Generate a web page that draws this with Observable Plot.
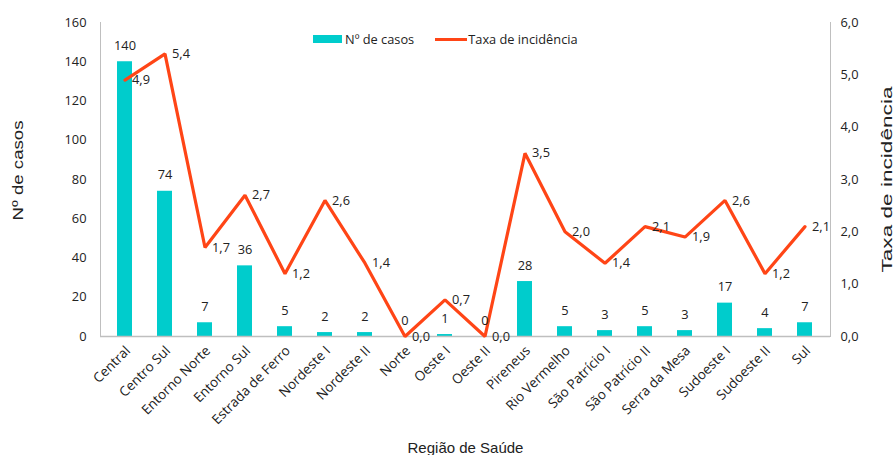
<!DOCTYPE html>
<html>
<head>
<meta charset="utf-8">
<script src="https://cdn.jsdelivr.net/npm/d3@7"></script>
<script src="https://cdn.jsdelivr.net/npm/@observablehq/plot@0.6"></script>
<style>
  body { margin: 0; background: #fff; }
  #wrap { position: relative; width: 896px; height: 455px; }
  .legend { position: absolute; top: 30px; left: 313px; font-family: "Open Sans", sans-serif; font-size: 12.8px; color: #222; display: flex; align-items: center; }
  .sw { display: inline-block; }
</style>
</head>
<body>
<div id="wrap"></div>
<script>
const categorias = ["Central","Centro Sul","Entorno Norte","Entorno Sul","Estrada de Ferro","Nordeste I","Nordeste II","Norte","Oeste I","Oeste II","Pireneus","Rio Vermelho","São Patrício I","São Patrício II","Serra da Mesa","Sudoeste I","Sudoeste II","Sul"];
const casos = [140,74,7,36,5,2,2,0,1,0,28,5,3,5,3,17,4,7];
const taxa = [4.9,5.4,1.7,2.7,1.2,2.6,1.4,0.0,0.7,0.0,3.5,2.0,1.4,2.1,1.9,2.6,1.2,2.1];
const casosTicks = [0,20,40,60,80,100,120,140,160];
const taxaTicks = [0,1,2,3,4,5,6];

const corBarra = "#00CCCC";
const corLinha = "#FF4516";
const k = 160 / 6;
const fmt = v => v.toFixed(1).replace(".", ",");
const data = categorias.map((c, i) => ({regiao: c, casos: casos[i], taxa: taxa[i]}));

const tituloY = "Nº de casos";
const tituloY2 = "Taxa de incidência";
const tituloX = "Região de Saúde";

const plot = Plot.plot({
  width: 896,
  height: 455,
  marginLeft: 100,
  marginRight: 66,
  marginTop: 22,
  marginBottom: 119,
  style: {fontFamily: "'Open Sans', sans-serif", fontSize: "12.8px", color: "#222", background: "#fff"},
  x: {domain: categorias, paddingInner: 0.62, paddingOuter: 0.31},
  y: {domain: [0, 160]},
  marks: [
    Plot.barY(data, {x: "regiao", y: "casos", fill: corBarra}),
    Plot.ruleY([0], {stroke: "#bfbfbf", strokeWidth: 1.5}),
    Plot.frame({anchor: "left", stroke: "#bfbfbf"}),
    Plot.frame({anchor: "right", stroke: "#bfbfbf"}),
    Plot.lineY(data, {x: "regiao", y: d => d.taxa * k, stroke: corLinha, strokeWidth: 3.2, strokeLinejoin: "miter"}),
    Plot.text(data, {x: "regiao", y: "casos", text: d => String(d.casos), dy: -16, fill: "#222"}),
    Plot.text(data, {x: "regiao", y: d => d.taxa * k, text: d => fmt(d.taxa), textAnchor: "start", dx: 7, fill: "#222"}),
    Plot.axisY({ticks: casosTicks, tickSize: 0, tickPadding: 14, label: null, fontSize: 12.8}),
    Plot.axisY({anchor: "right", ticks: taxaTicks.map(v => v * k), tickFormat: v => fmt(v / k), tickSize: 0, tickPadding: 10, label: null, fontSize: 12.8}),
    Plot.axisX({tickRotate: -45, tickSize: 0, tickPadding: 12, dx: 3, label: null, fontSize: 13.5}),
    Plot.text([tituloY], {frameAnchor: "left", textAnchor: "middle", dx: -82, dy: -9, rotate: -90, fontSize: 15, fontFamily: "'Liberation Sans', Arial, sans-serif", fill: "#222"}),
    Plot.text([tituloY2], {frameAnchor: "right", textAnchor: "middle", dx: 57, rotate: -90, fontSize: 15, fontFamily: "'Liberation Sans', Arial, sans-serif", fill: "#222"}),
    Plot.text([tituloX], {frameAnchor: "bottom", dy: 116, fontSize: 15, fontFamily: "'Liberation Sans', Arial, sans-serif", fill: "#222"})
  ]
});

// stretch the rotated titles along their length to match the reference's proportions
const comprimentos = new Map([[tituloY, 100], [tituloY2, 186]]);
plot.querySelectorAll("text, tspan").forEach(el => {
  if (el.children.length) return;
  const t = el.textContent;
  if (comprimentos.has(t)) {
    el.setAttribute("textLength", comprimentos.get(t));
    el.setAttribute("lengthAdjust", "spacingAndGlyphs");
  }
});

const wrap = document.getElementById("wrap");
wrap.appendChild(plot);

const legend = document.createElement("div");
legend.className = "legend";
legend.innerHTML =
  `<span class="sw" style="width:29px;height:8px;background:${corBarra};margin-right:3px"></span><span>Nº de casos</span>` +
  `<span class="sw" style="width:32px;height:3px;background:${corLinha};margin-left:21px;margin-right:1px"></span><span>Taxa de incidência</span>`;
wrap.appendChild(legend);
</script>
</body>
</html>
